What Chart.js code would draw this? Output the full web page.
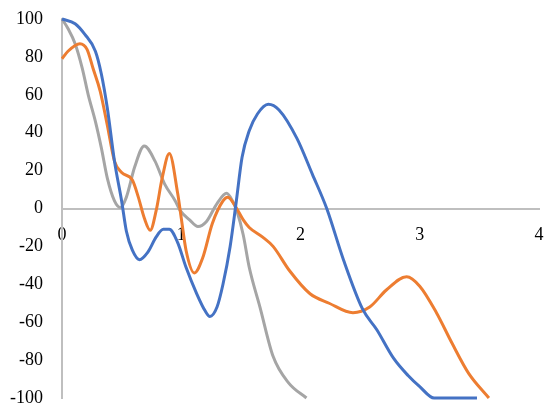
<!DOCTYPE html>
<html>
<head>
<meta charset="utf-8">
<script src="https://cdn.jsdelivr.net/npm/chart.js@4/dist/chart.umd.min.js"></script>
<style>
html,body{margin:0;padding:0;background:#fff;}
#wrap{width:550px;height:420px;position:relative;}
</style>
</head>
<body>
<div id="wrap"><canvas id="c" width="550" height="420"></canvas></div>
<script>
// Tick values
const xTicks = [0, 1, 2, 3, 4];
const yTicks = [-100, -80, -60, -40, -20, 0, 20, 40, 60, 80, 100];

// Series 1 (blue)
const blueX = [0,0.11,0.19,0.28,0.33,0.38,0.44,0.5,0.54,0.59,0.65,0.72,0.79,0.85,0.9,0.97,1.04,1.13,1.2,1.24,1.3,1.35,1.41,1.46,1.51,1.57,1.64,1.73,1.82,1.97,2.1,2.22,2.36,2.52,2.64,2.78,2.9,3.0,3.12,3.48];
const blueY = [100,97.5,92,83,71,53,25,4,-12,-22,-27,-23,-15,-11,-11,-18,-31,-45,-54,-57,-52,-40,-20,3,27,41,50,55,52,37,18,0,-27,-53,-64,-79,-88,-94,-100,-100];

// Series 2 (orange)
const orangeX = [0,0.05,0.15,0.21,0.26,0.32,0.38,0.44,0.5,0.59,0.64,0.69,0.74,0.79,0.84,0.9,0.97,1.0,1.04,1.11,1.18,1.26,1.35,1.39,1.46,1.52,1.57,1.68,1.77,1.91,2.08,2.24,2.44,2.58,2.72,2.89,3.0,3.14,3.27,3.41,3.58];
const orangeY = [79,83,87,84,74,62,44,25,19,15,6,-5,-11.5,-1,16,29,8,-5,-22,-34,-26,-8,4,6,0.5,-6,-10,-15,-20,-33,-45,-50,-55,-52,-43,-36,-41,-55,-71,-87,-100];

// Series 3 (gray)
const grayX = [0,0.05,0.11,0.17,0.22,0.28,0.33,0.38,0.44,0.49,0.54,0.61,0.69,0.78,0.86,0.95,0.99,1.07,1.14,1.21,1.3,1.38,1.43,1.47,1.52,1.57,1.66,1.77,1.9,2.05];
const grayY = [100,95,87,74,60,46,32,16,4,0.5,6,22,33,25,13,4,-1,-6,-9.5,-7,2.6,8,4,-2,-14,-31,-52,-78,-92,-100];

function pts(xs, ys){ return xs.map((x,i)=>({x:x, y:ys[i]})); }

const FONT = {family: "'Liberation Serif', 'Times New Roman', serif", size: 18};
const AXIS_COLOR = '#bfbfbf';

function ds(label, xs, ys, color){
  return {
    label: label,
    data: pts(xs, ys),
    borderColor: color,
    backgroundColor: color,
    borderWidth: 3,
    pointRadius: 0,
    showLine: true,
    fill: false,
    cubicInterpolationMode: 'monotone',
    clip: 4
  };
}

new Chart(document.getElementById('c'), {
  type: 'scatter',
  data: {
    datasets: [
      ds('Series 1', blueX, blueY, '#4472C4'),
      ds('Series 2', orangeX, orangeY, '#ED7D31'),
      ds('Series 3', grayX, grayY, '#A5A5A5')
    ]
  },
  options: {
    responsive: false,
    animation: false,
    layout: {padding: {top: 19, right: 11, bottom: 22, left: 0}},
    plugins: {legend: {display: false}, tooltip: {enabled: false}},
    scales: {
      x: {
        type: 'linear',
        position: {y: 0},
        min: 0, max: 4,
        afterBuildTicks: (s) => { s.ticks = xTicks.map(v => ({value: v})); },
        afterFit: (s) => { s.height = 0; s.paddingLeft = 0; s.paddingRight = 0; s.paddingTop = 0; s.paddingBottom = 0; },
        grid: {display: true, drawOnChartArea: false, drawTicks: false},
        border: {display: true, color: AXIS_COLOR, width: 2},
        ticks: {color: '#000', font: FONT, padding: 16, maxRotation: 0}
      },
      y: {
        type: 'linear',
        position: 'left',
        min: -100, max: 100,
        afterBuildTicks: (s) => { s.ticks = yTicks.map(v => ({value: v})); },
        afterFit: (s) => { s.width = 62; s.paddingTop = 0; s.paddingBottom = 0; },
        grid: {display: true, drawOnChartArea: false, drawTicks: false},
        border: {display: true, color: AXIS_COLOR, width: 2},
        ticks: {color: '#000', font: FONT, padding: 19}
      }
    }
  }
});
</script>
</body>
</html>
